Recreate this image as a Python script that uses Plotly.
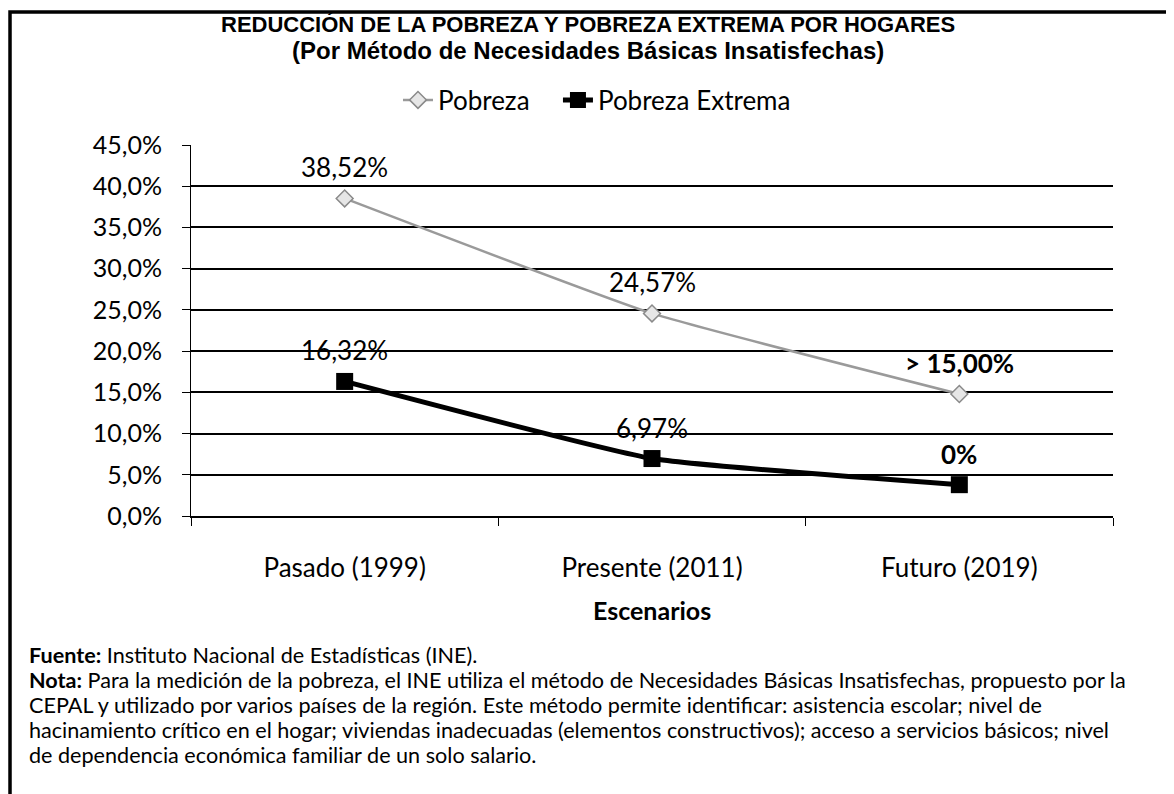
import plotly.graph_objects as go

# data
escenarios = ["Pasado (1999)", "Presente (2011)", "Futuro (2019)"]
pobreza = [38.52, 24.57, 14.8]
pobreza_extrema = [16.32, 6.97, 3.8]
etiquetas_pobreza = ["38,52%", "24,57%", "<b>> 15,00%</b>"]
etiquetas_extrema = ["16,32%", "6,97%", "<b>0%</b>"]
y_ticks = [0, 5, 10, 15, 20, 25, 30, 35, 40, 45]
y_tick_labels = ["0,0%", "5,0%", "10,0%", "15,0%", "20,0%", "25,0%",
                 "30,0%", "35,0%", "40,0%", "45,0%"]
notas = [
    "<b>Fuente:</b> Instituto Nacional de Estadísticas (INE).",
    "<b>Nota:</b> Para la medición de la pobreza, el INE utiliza el método de "
    "Necesidades Básicas Insatisfechas, propuesto por la",
    "CEPAL y utilizado por varios países de la región. Este método permite "
    "identificar: asistencia escolar; nivel de",
    "hacinamiento crítico en el hogar; viviendas inadecuadas (elementos "
    "constructivos); acceso a servicios básicos; nivel",
    "de dependencia económica familiar de un solo salario.",
]

BODY = "Lato, Calibri, sans-serif"
HEAD = "Liberation Sans, Arial, sans-serif"

fig = go.Figure()

fig.add_trace(go.Scatter(
    x=escenarios, y=pobreza, name="Pobreza", legend="legend",
    mode="lines+markers",
    line=dict(color="#9a9a9a", width=2.5, shape="spline", smoothing=0.4),
    marker=dict(symbol="diamond", size=13, color="#e6e6e6",
                line=dict(color="#8a8a8a", width=1.5)),
))
fig.add_trace(go.Scatter(
    x=escenarios, y=pobreza_extrema, name="Pobreza Extrema", legend="legend2",
    mode="lines+markers",
    line=dict(color="black", width=5, shape="spline", smoothing=0.4),
    marker=dict(symbol="square", size=17, color="black"),
))

annotations = []
# data labels above each point
for serie, etiquetas in ((pobreza, etiquetas_pobreza), (pobreza_extrema, etiquetas_extrema)):
    for cat, val, txt in zip(escenarios, serie, etiquetas):
        annotations.append(dict(x=cat, y=val, text=txt, showarrow=False,
                                yshift=31, font=dict(family=BODY, size=26, color="black")))

# title, two lines (centred on the whole picture)
annotations.append(dict(x=0.4306, y=1.3235, xref="paper", yref="paper", showarrow=False,
                        yanchor="middle",
                        text="<b>REDUCCIÓN DE LA POBREZA Y POBREZA EXTREMA POR HOGARES</b>",
                        font=dict(family=HEAD, size=22, color="black")))
annotations.append(dict(x=0.4306, y=1.2534, xref="paper", yref="paper", showarrow=False,
                        yanchor="middle",
                        text="<b>(Por Método de Necesidades Básicas Insatisfechas)</b>",
                        font=dict(family=HEAD, size=24, color="black")))

# axis title
annotations.append(dict(x=0.5, y=-0.2534, xref="paper", yref="paper", yanchor="middle",
                        text="<b>Escenarios</b>", showarrow=False,
                        font=dict(family=BODY, size=25, color="black")))

# footnotes, one line each
for i, linea in enumerate(notas):
    annotations.append(dict(x=-0.1779, y=-0.3747 - i * 0.0674, xref="paper", yref="paper",
                            xanchor="left", yanchor="middle", align="left",
                            text=linea, showarrow=False,
                            font=dict(family=BODY, size=21.6, color="black")))

legend_font = dict(family=BODY, size=26, color="black")

fig.update_layout(
    width=1166, height=786,
    margin=dict(l=183, r=61, t=137, b=278),
    paper_bgcolor="white", plot_bgcolor="white",
    legend=dict(orientation="h", x=0.2245, xanchor="left", y=1.1213, yanchor="middle",
                font=legend_font, itemwidth=30),
    legend2=dict(orientation="h", x=0.398, xanchor="left", y=1.1213, yanchor="middle",
                 font=legend_font, itemwidth=30),
    showlegend=True,
    xaxis=dict(
        showline=True, linecolor="black", linewidth=1.5,
        ticks="outside", tickson="boundaries", ticklen=8, tickcolor="black",
        showgrid=False, ticklabelstandoff=28,
        tickfont=dict(family=BODY, size=26, color="black"),
        range=[-0.5, 2.5],
    ),
    yaxis=dict(
        range=[0, 45], tickvals=y_ticks, ticktext=y_tick_labels,
        showgrid=True, gridcolor="black", gridwidth=1.5,
        showline=True, linecolor="black", linewidth=1,
        ticks="outside", ticklen=8, tickcolor="black", ticklabelstandoff=15,
        tickfont=dict(family=BODY, size=25, color="black"),
        zeroline=False,
    ),
    annotations=annotations,
    shapes=[
        dict(type="path", xref="paper", yref="paper",
             path="M -0.1963,-0.75 L -0.1963,1.3585 L 1.07,1.3585",
             line=dict(color="black", width=3.5)),
    ],
)

fig.write_html("out.html")
